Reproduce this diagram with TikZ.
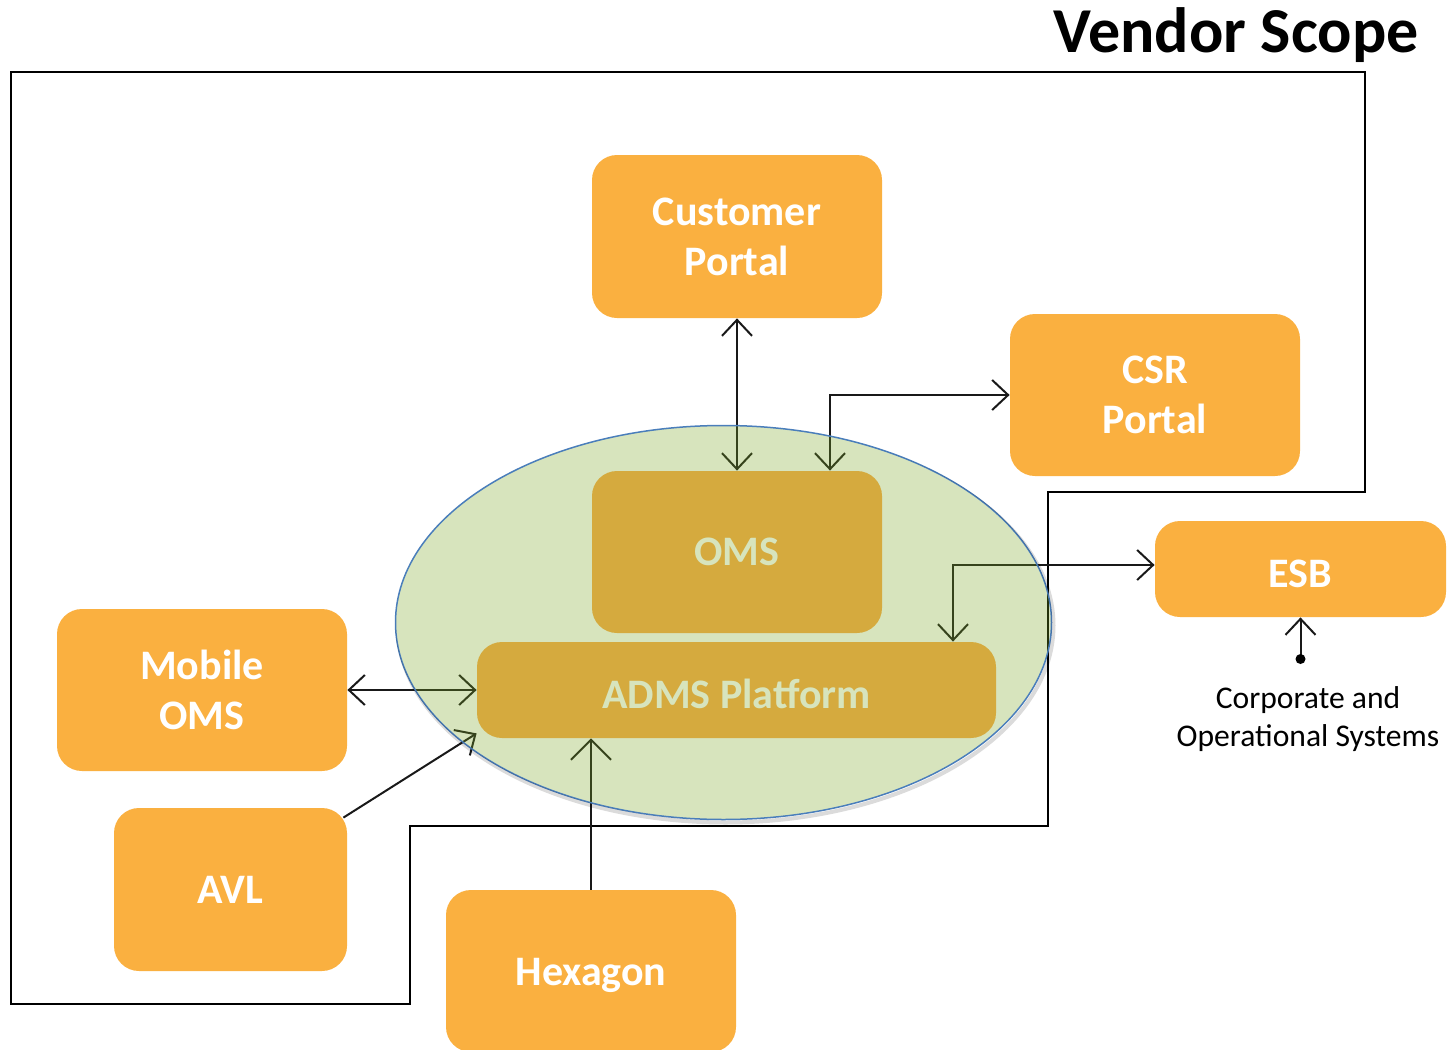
\documentclass[tikz,border=0pt]{standalone}
\usepackage{fontspec}
\setmainfont{Carlito}
\usetikzlibrary{arrows.meta,shapes.geometric,calc}
\definecolor{boxorange}{RGB}{250,176,64}
\definecolor{boxochre}{RGB}{213,170,62}
\definecolor{elltint}{RGB}{122,165,35}
\definecolor{ellline}{RGB}{74,126,187}
\definecolor{paletext}{RGB}{215,228,189}
\pgfdeclarelayer{lines}
\pgfdeclarelayer{ell}
\pgfsetlayers{lines,ell,main}
\tikzset{
  box/.style={rectangle, rounded corners=12.5pt, fill=boxorange, text=white,
    font=\fontsize{21}{25}\selectfont\bfseries, align=center, inner sep=0pt},
  inbox/.style={box, fill=boxochre, text=paletext},
  conn/.style={draw=black!90, line width=1pt},
  >={Straight Barb[length=8pt,width=15pt]}
}
\begin{document}
\begin{tikzpicture}[x=0.5pt,y=-0.5pt]
\useasboundingbox (0,0) rectangle (1453,1050);
% title
\node[anchor=base east, font=\fontsize{32}{38}\selectfont\bfseries, inner sep=0pt] (vs) at (1419,52) {Vendor Scope};
% boxes
\node[box, minimum width=145pt, minimum height=81.5pt] (cp) at (737,236.5) {Customer\\Portal};
\node[box, minimum width=145pt, minimum height=81pt] (csr) at (1155,395) {CSR\\Portal};
\node[inbox, minimum width=145pt, minimum height=81pt] (oms) at (737,552) {OMS};
\node[inbox, minimum width=259.5pt, minimum height=48pt, text height=18.5pt, text depth=0pt] (adms) at (736.5,690) {ADMS Platform};
\node[box, minimum width=145.5pt, minimum height=48pt, text height=18pt, text depth=0pt] (esb) at (1300.5,569) {ESB};
\node[box, minimum width=145pt, minimum height=81pt] (mob) at (202,690) {Mobile\\OMS};
\node[box, minimum width=116.5pt, minimum height=81.5pt] (avl) at (230.5,889.5) {AVL};
\node[box, minimum width=145pt, minimum height=81pt, text height=14.5pt, text depth=0pt] (hex) at (591,971) {Hexagon};
\node[align=center, font=\fontsize{15.8}{19}\selectfont, inner sep=0pt] (corp) at (1308,719) {Corporate and\\Operational Systems};
\coordinate (dot) at (1300.5,659);
\fill (dot) circle (2.5pt);
% ellipse
\begin{pgfonlayer}{ell}
\node[ellipse, minimum width=328pt, minimum height=197pt, inner sep=0pt, fill=elltint, fill opacity=0.3, draw=ellline, line width=0.75pt] (ell) at (723.5,622.5) {};
\begin{scope}[even odd rule]
\clip (0,0) rectangle (1453,1050) (ell.center) ellipse [x radius=164pt, y radius=98.5pt];
\draw[black, opacity=0.14, line width=2pt] ([xshift=1pt,yshift=-1.5pt]ell.center) ellipse [x radius=164pt, y radius=98.5pt];
\end{scope}
\end{pgfonlayer}
% scope outline and connectors
\begin{pgfonlayer}{lines}
\draw[line width=1pt, line join=miter] (11,72) -- (1365,72) -- (1365,492) -- (1048,492) -- (1048,826) -- (410,826) -- (410,1004) -- (11,1004) -- cycle;
\draw[conn,<->] (cp.south) -- (oms.north);
\draw[conn,<->] ([xshift=46.5pt]oms.north) |- (csr.west);
\draw[conn,<->] ([xshift=108.25pt]adms.north) |- ([yshift=2pt]esb.west);
\draw[conn,<->] (mob.east) -- (adms.west);
\draw[conn,->] ([xshift=-2pt,yshift=-5pt]avl.north east) -- ([yshift=2.5pt]adms.south west);
\draw[conn,->,>={Straight Barb[length=10pt,width=20pt]}] (hex.north) -- (hex.north |- adms.south);
\draw[conn,->] (dot) -- (esb.south);
\end{pgfonlayer}
\end{tikzpicture}
\end{document}
